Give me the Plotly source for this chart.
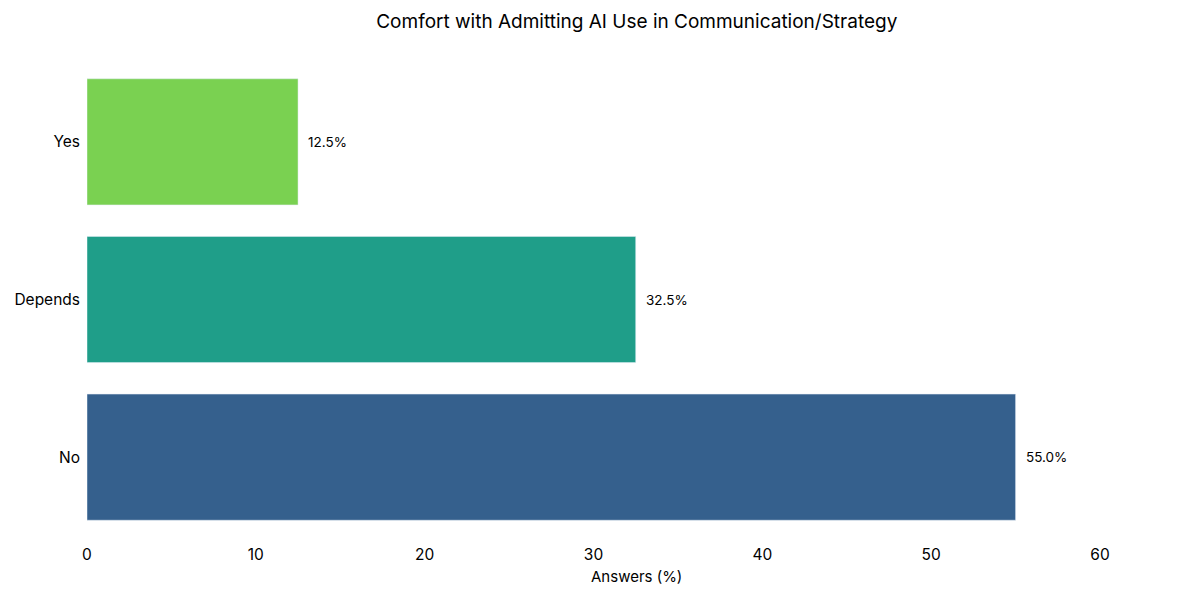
import plotly.graph_objects as go

answers = ["No", "Depends", "Yes"]
percent = [55.0, 32.5, 12.5]
colors = ["#35608d", "#1f9e89", "#7ad151"]

fig = go.Figure(go.Bar(
    x=percent,
    y=answers,
    orientation="h",
    marker_color=colors,
    width=0.8,
))

for a, p in zip(answers, percent):
    fig.add_annotation(x=p + 0.5, y=a, text=f"{p:.1f}%", showarrow=False,
                       xanchor="left", font=dict(size=13.5, color="black"))

# axis title placed as annotation so it sits under the figure centre
fig.add_annotation(text="Answers (%)", xref="paper", yref="paper", x=0.542, y=0,
                   yanchor="middle", yshift=-40, showarrow=False,
                   font=dict(size=15, color="black"))

fig.update_layout(
    title=dict(text="Comfort with Admitting AI Use in Communication/Strategy",
               x=0.524, xanchor="center", y=0.977, yanchor="middle",
               font=dict(size=19, color="black")),
    font=dict(family="Inter, Roboto, sans-serif", size=15.5, color="black"),
    plot_bgcolor="white",
    paper_bgcolor="white",
    width=1200, height=600,
    margin=dict(l=79, r=108, t=55, b=72),
    showlegend=False,
    xaxis=dict(range=[0, 60], dtick=10, showgrid=False, zeroline=False,
               ticks="", ticklabelstandoff=7, automargin=False),
    yaxis=dict(showgrid=False, zeroline=False, ticks="", range=[-0.5, 2.5],
               ticklabelstandoff=6, automargin=False),
)

fig.write_html("out.html")
